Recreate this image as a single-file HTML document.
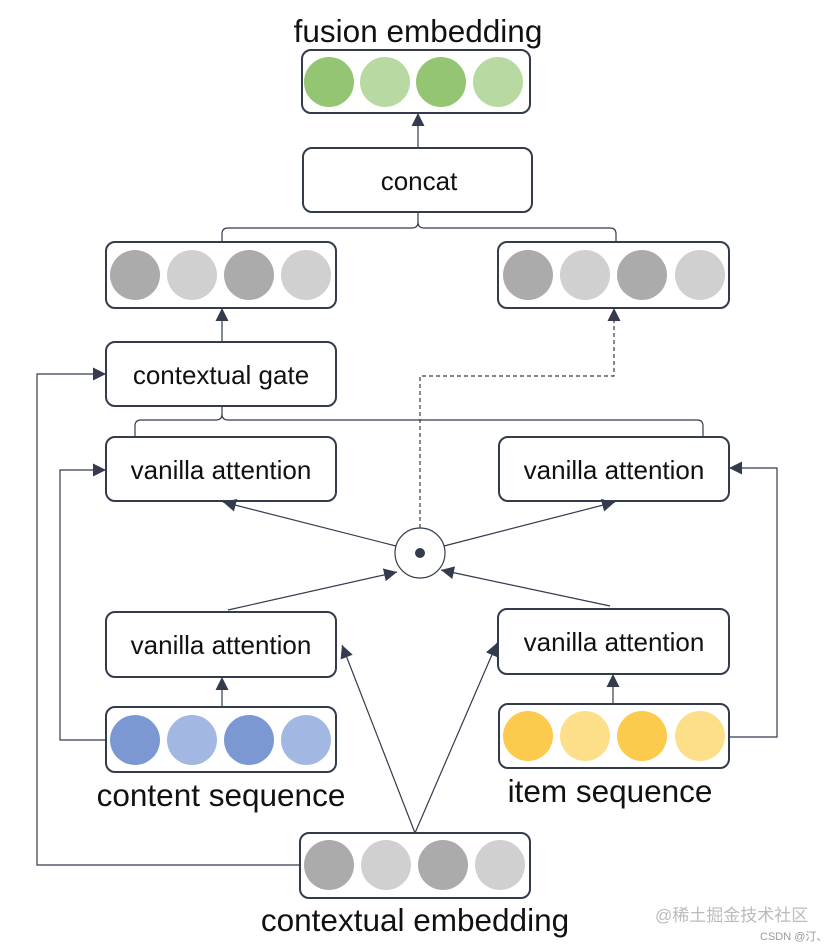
<!DOCTYPE html>
<html><head><meta charset="utf-8"><style>
html,body{margin:0;padding:0;background:#fff;}
svg{display:block;}
text{font-family:"Liberation Sans","DejaVu Sans",sans-serif;fill:#111;}
</style></head><body>
<svg width="836" height="950" viewBox="0 0 836 950" xmlns="http://www.w3.org/2000/svg">
<defs>
<marker id="a" viewBox="0 0 10 10" refX="10" refY="5" markerWidth="13" markerHeight="13" markerUnits="userSpaceOnUse" orient="auto"><path d="M0,0 L10,5 L0,10 z" fill="#333b4d"/></marker>
</defs>
<g fill="none" stroke="#333b4d" stroke-width="2">
<rect x="302" y="50" width="228" height="63" rx="9"/>
<rect x="303" y="148" width="229" height="64" rx="9"/>
<rect x="106" y="242" width="230" height="66" rx="9"/>
<rect x="498" y="242" width="231" height="66" rx="9"/>
<rect x="106" y="342" width="230" height="64" rx="9"/>
<rect x="106" y="437" width="230" height="64" rx="9"/>
<rect x="499" y="437" width="230" height="64" rx="9"/>
<rect x="106" y="612" width="230" height="65" rx="9"/>
<rect x="498" y="609" width="231" height="65" rx="9"/>
<rect x="106" y="707" width="230" height="65" rx="9"/>
<rect x="499" y="704" width="230" height="64" rx="9"/>
<rect x="300" y="833" width="230" height="65" rx="9"/>
</g>
<g>
<circle cx="329" cy="82" r="25" fill="#93c572"/><circle cx="385" cy="82" r="25" fill="#b8d9a2"/><circle cx="441" cy="82" r="25" fill="#93c572"/><circle cx="498" cy="82" r="25" fill="#b8d9a2"/>
<circle cx="135" cy="275" r="25" fill="#ababab"/><circle cx="192" cy="275" r="25" fill="#d0d0d0"/><circle cx="249" cy="275" r="25" fill="#ababab"/><circle cx="306" cy="275" r="25" fill="#d0d0d0"/>
<circle cx="528" cy="275" r="25" fill="#ababab"/><circle cx="585" cy="275" r="25" fill="#d0d0d0"/><circle cx="642" cy="275" r="25" fill="#ababab"/><circle cx="700" cy="275" r="25" fill="#d0d0d0"/>
<circle cx="135" cy="740" r="25" fill="#7b98d2"/><circle cx="192" cy="740" r="25" fill="#a2b8e2"/><circle cx="249" cy="740" r="25" fill="#7b98d2"/><circle cx="306" cy="740" r="25" fill="#a2b8e2"/>
<circle cx="528" cy="736" r="25" fill="#fccb4e"/><circle cx="585" cy="736" r="25" fill="#fddf8a"/><circle cx="642" cy="736" r="25" fill="#fccb4e"/><circle cx="700" cy="736" r="25" fill="#fddf8a"/>
<circle cx="329" cy="865" r="25" fill="#ababab"/><circle cx="386" cy="865" r="25" fill="#d0d0d0"/><circle cx="443" cy="865" r="25" fill="#ababab"/><circle cx="500" cy="865" r="25" fill="#d0d0d0"/>
</g>
<g fill="none" stroke="#333b4d" stroke-width="1.2">
<line x1="418" y1="148" x2="418" y2="113" marker-end="url(#a)"/>
<path d="M418,212 V222 Q418,228 412,228 H228 Q222,228 222,234 V242"/>
<path d="M418,222 Q418,228 424,228 H610 Q616,228 616,234 V242"/>
<line x1="222" y1="342" x2="222" y2="308" marker-end="url(#a)"/>
<path d="M222,406 V414 Q222,420 216,420 H141 Q135,420 135,426 V437"/>
<path d="M222,414 Q222,420 228,420 H697 Q703,420 703,426 V437"/>
<path d="M420,528 V376 H614 V308" stroke-dasharray="4,3" marker-end="url(#a)"/>
<circle cx="420" cy="553" r="25" fill="#fff"/>
<line x1="396" y1="546" x2="223" y2="502" marker-end="url(#a)"/>
<line x1="444" y1="546" x2="615" y2="502" marker-end="url(#a)"/>
<line x1="228" y1="610" x2="397" y2="572" marker-end="url(#a)"/>
<line x1="610" y1="606" x2="441" y2="570" marker-end="url(#a)"/>
<line x1="222" y1="707" x2="222" y2="677" marker-end="url(#a)"/>
<line x1="613" y1="704" x2="613" y2="674" marker-end="url(#a)"/>
<line x1="415" y1="833" x2="342" y2="645" marker-end="url(#a)"/>
<line x1="415" y1="833" x2="497" y2="643" marker-end="url(#a)"/>
<path d="M106,740 H60 V470 H106" marker-end="url(#a)"/>
<path d="M300,865 H37 V374 H106" marker-end="url(#a)"/>
<path d="M729,737 H777 V468 H729" marker-end="url(#a)"/>
</g>
<circle cx="420" cy="553" r="5" fill="#333b4d"/>
<g font-size="26" text-anchor="middle">
<text x="419" y="190">concat</text>
<text x="221" y="384">contextual gate</text>
<text x="221" y="479">vanilla attention</text>
<text x="614" y="479">vanilla attention</text>
<text x="221" y="654">vanilla attention</text>
<text x="614" y="651">vanilla attention</text>
</g>
<g font-size="31.5" text-anchor="middle">
<text x="418" y="42">fusion embedding</text>
<text x="221" y="806">content sequence</text>
<text x="610" y="802">item sequence</text>
<text x="415" y="931">contextual embedding</text>
</g>
<text x="655" y="921" font-size="17" style="fill:#bbb;font-family:'Liberation Sans','Noto Sans CJK SC',sans-serif">@稀土掘金技术社区</text>
<text x="760" y="940" font-size="11" style="fill:#999;font-family:'Liberation Sans','Noto Sans CJK SC',sans-serif">CSDN @汀、</text>
</svg>
</body></html>
